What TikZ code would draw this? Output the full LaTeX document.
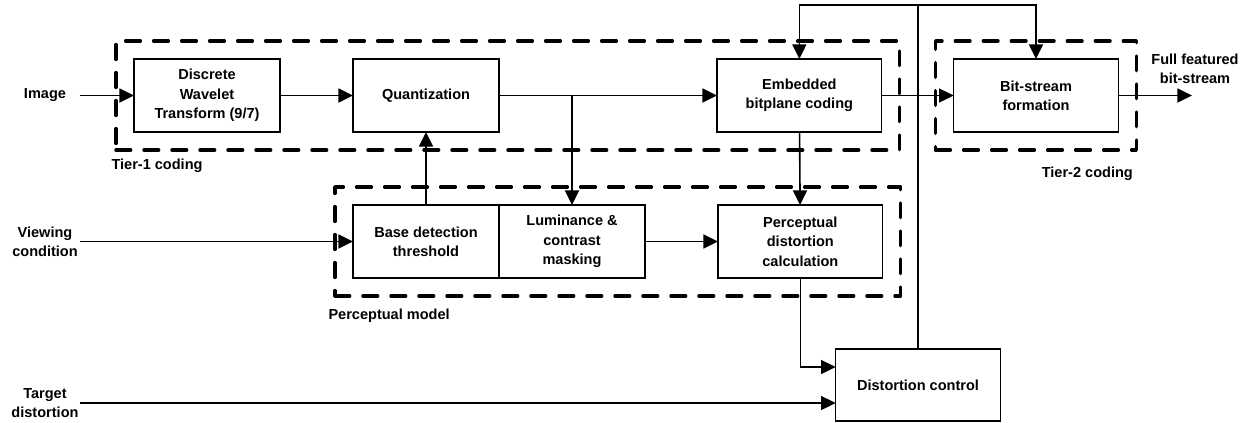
\documentclass[tikz,border=0pt]{standalone}
\usepackage{fontspec}
\setmainfont{Liberation Sans}
\usepackage{tikz}
\usetikzlibrary{arrows.meta,positioning,fit}

\begin{document}
\begin{tikzpicture}[
    x=0.75pt, y=-0.75pt,
    blk/.style={draw, line width=1.2pt, minimum width=109.5pt, minimum height=54.75pt, inner sep=2pt, outer sep=0pt, align=center, font=\bfseries\fontsize{10.9}{14.5}\selectfont},
    wblk/.style={blk, minimum width=123.5pt},
    grp/.style={draw, line width=2.6pt, dash pattern=on 11pt off 10pt, line cap=round, line join=round, inner sep=13.5pt},
    lbl/.style={inner sep=0pt, align=center, font=\bfseries\fontsize{10.9}{14}\selectfont},
    inp/.style={lbl, text width=52pt},
    arr/.style={line width=1.2pt, -{Triangle[length=11pt, width=10.5pt]}},
    lnk/.style={line width=1.2pt}
]
\useasboundingbox (0,0) rectangle (1248,422);

% tier-1 row
\node[blk] (dwt) at (207,95.5) {Discrete\\Wavelet\\Transform (9/7)};
\node[blk, right=54.75pt of dwt] (quant) {Quantization};
\node[wblk, right=163.5pt of quant] (ebc) {Embedded\\bitplane coding};
\node[wblk, right=54pt of ebc] (bsf) {Bit-stream\\formation};

% perceptual model row
\node[blk, below=54.75pt of quant] (bdt) {Base detection\\threshold};
\node[blk, right=0pt of bdt] (lcm) {Luminance \&\\contrast\\masking};
\node[wblk, right=54.75pt of lcm] (pdc) {Perceptual\\distortion\\calculation};

% control
\node[wblk, minimum height=54pt] (dc) at (918,385) {Distortion control};

% groups
\node[grp, fit=(dwt)(ebc)] (t1) {};
\node[grp, fit=(bsf)] (t2) {};
\node[grp, fit=(bdt)(pdc)] (pm) {};
\node[lbl, anchor=north west] (t1lbl) at ([xshift=-2.25pt, yshift=-5.25pt]t1.south west) {Tier-1 coding};
\node[lbl, anchor=north east] (t2lbl) at ([xshift=-3.75pt, yshift=-11pt]t2.south east) {Tier-2 coding};
\node[lbl, anchor=north west] (pmlbl) at ([xshift=-3.75pt, yshift=-8.25pt]pm.south west) {Perceptual model};

% inputs and output
\node[inp] (img) at (45,95.5) {Image};
\node[inp] (vc) at (45,241.5) {Viewing\\condition};
\node[inp] (td) at (45,403) {Target\\distortion};
\node[lbl] (out) at (1195,68.5) {Full featured\\bit-stream};
\coordinate (bsout) at (1192,95.5);
\coordinate (top) at (0,5);

% connectors
\draw[arr] (img) -- (dwt);
\draw[arr] (dwt) -- (quant);
\draw[arr] (quant) -- (ebc);
\draw[arr] (quant.east -| lcm.north) -- (lcm.north);
\draw[arr] (ebc) -- (bsf);
\draw[arr] (bsf) -- (bsout);
\draw[arr] (vc) -- (bdt);
\draw[arr] (bdt) -- (quant);
\draw[arr] (lcm) -- (pdc);
\draw[arr] (ebc) -- (pdc);
\draw[arr] (pdc.south) |- ([yshift=13.5pt]dc.west);
\draw[arr] (td.east) -- (td.east -| dc.west);
\draw[arr] (dc.north) -- (dc.north |- top) -| (bsf.north);
\draw[arr] (dc.north |- top) -| (ebc.north);
\end{tikzpicture}
\end{document}
